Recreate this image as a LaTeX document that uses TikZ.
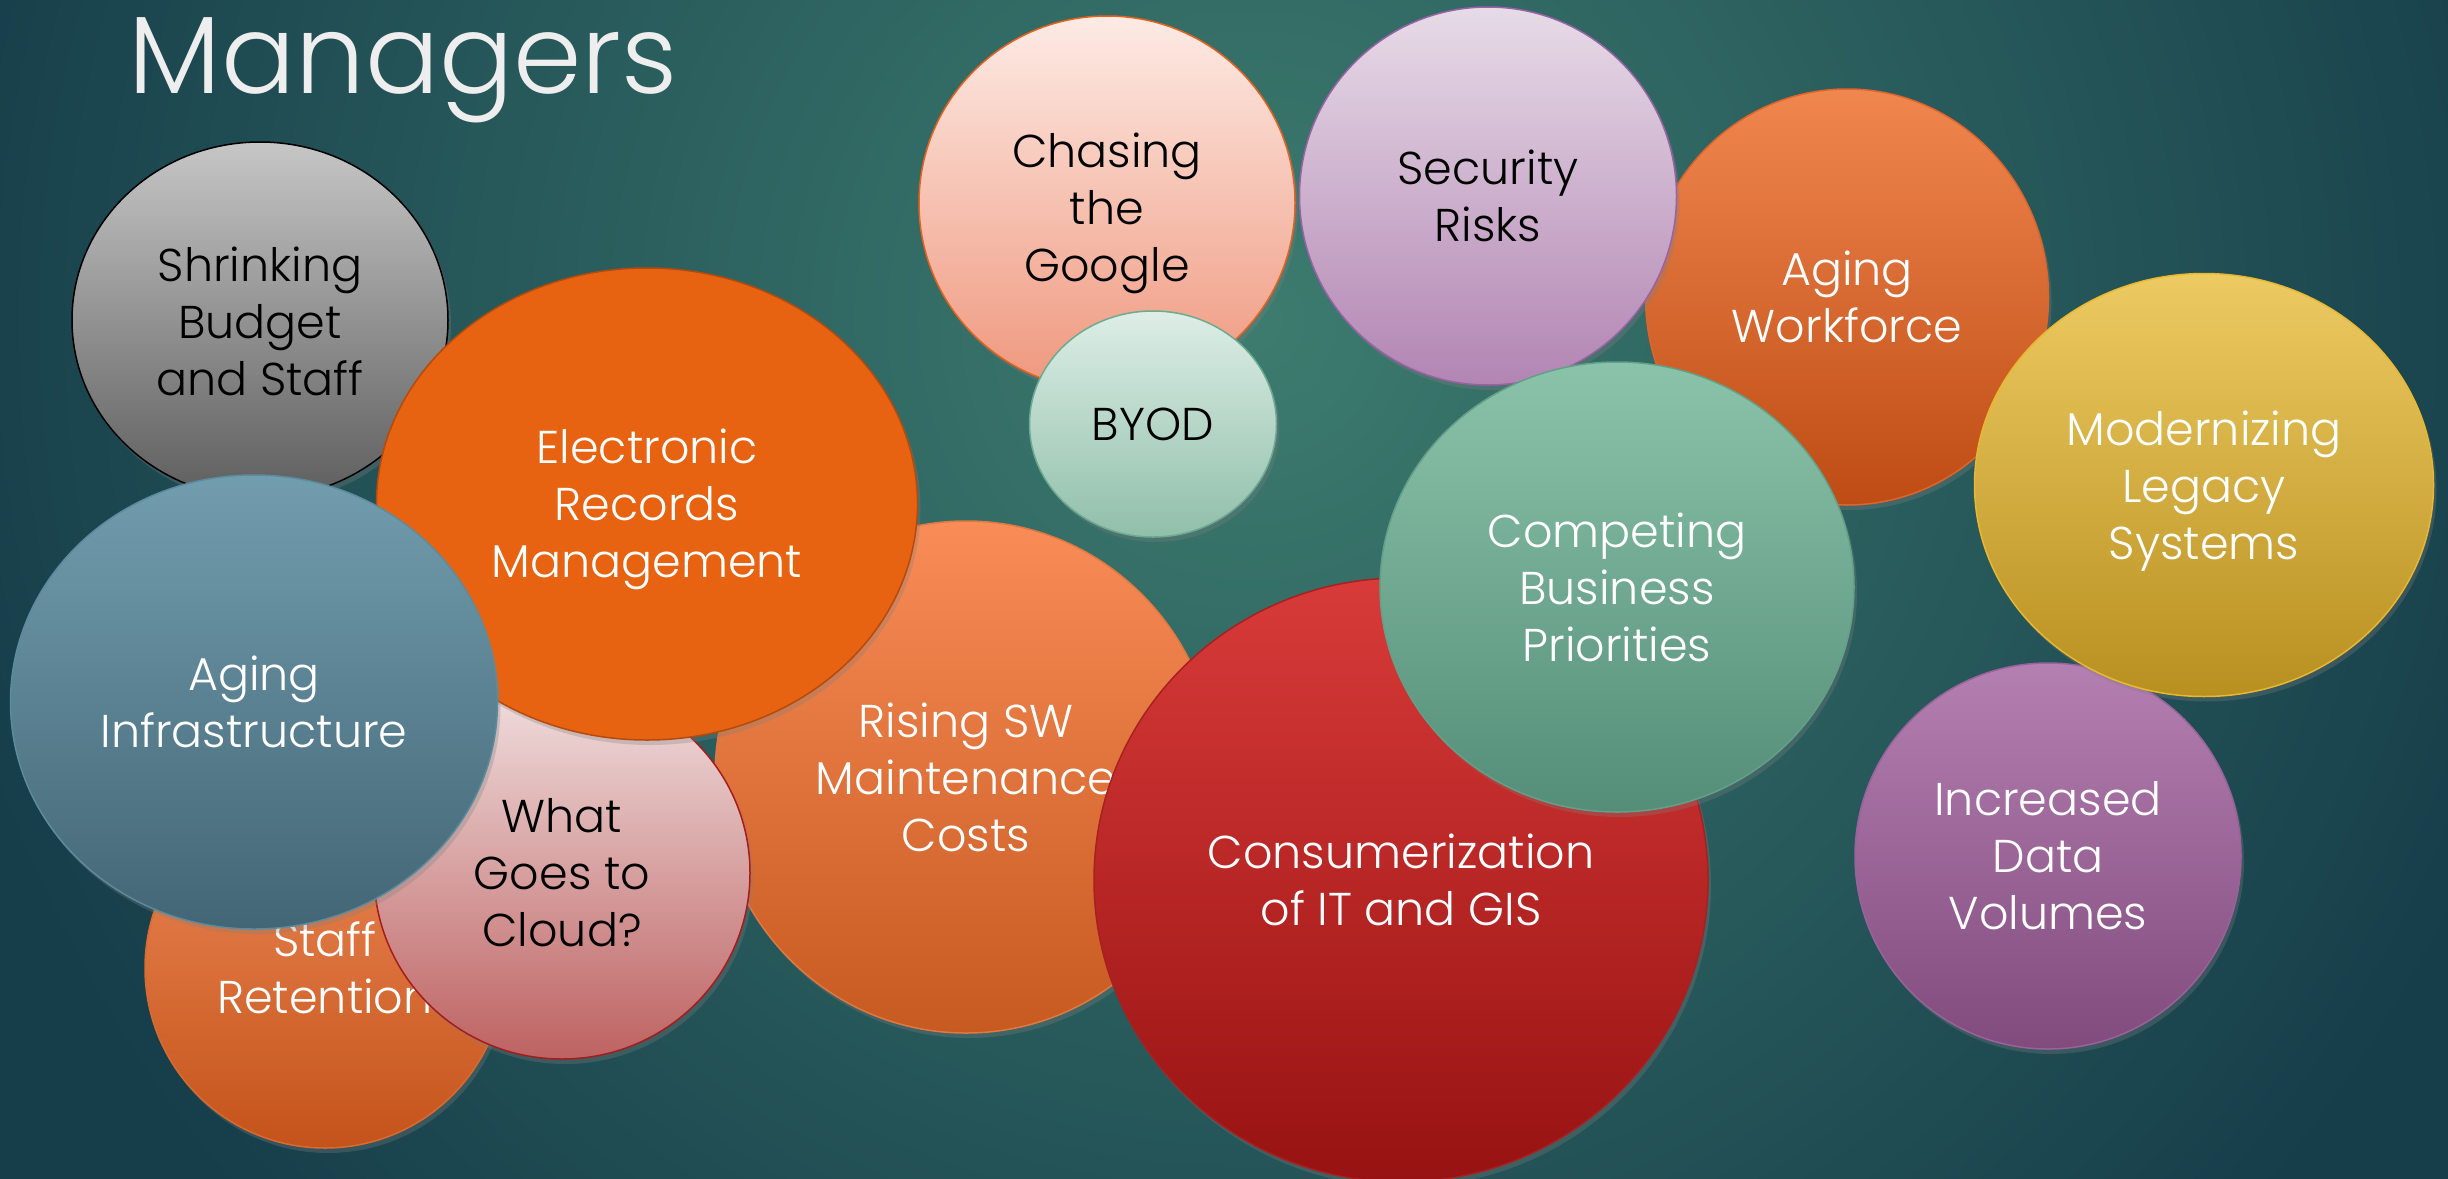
\documentclass[tikz,border=0pt]{standalone}
\usepackage{fontspec}
\setmainfont{Poppins Light}
\usepackage{tikz}
\usetikzlibrary{shapes.geometric,shadows}
\definecolor{bgdark}{HTML}{163D4A}
\definecolor{bglight}{HTML}{3D7C6F}
\definecolor{titlegray}{HTML}{EEEEEE}
\newcommand\tallline[1]{\rule{0pt}{#1}}

\begin{document}
\begin{tikzpicture}[x=1pt,y=-1pt,
    bubble/.style={ellipse,inner sep=0pt,align=center,text=white,line width=1.5pt,
      font=\fontsize{46}{57}\selectfont,
      drop shadow={shadow xshift=3pt,shadow yshift=-5pt,opacity=.3}}]
    \useasboundingbox (0,0) rectangle (2448,1178);
    \fill[bgdark] (-20,-20) rectangle (2468,1198);
    \begin{scope}
      \clip (-20,-20) rectangle (2468,1198);
      \shade[inner color=bglight,outer color=bgdark] (1250,320) circle (1350);
    \end{scope}
    \node[anchor=base west,text=titlegray,font=\fontsize{110}{110}\selectfont] (title) at (125,93) {Managers};
    \node[bubble,minimum width=376pt,minimum height=356pt,top color={rgb,255:red,198;green,198;blue,198},
      bottom color={rgb,255:red,94;green,94;blue,94},draw=black,text=black] (budget) at (260,320) {\tallline{38pt}Shrinking\\Budget\\and Staff};
    \node[bubble,minimum width=360pt,minimum height=360pt,top color={rgb,255:red,238;green,138;blue,88},
      bottom color={rgb,255:red,196;green,83;blue,26},draw={rgb,255:red,217;green,106;blue,48}] (retention) at (325,968) {Staff\\Retention};
    \node[bubble,minimum width=502pt,minimum height=512pt,top color={rgb,255:red,249;green,140;blue,87},
      bottom color={rgb,255:red,198;green,90;blue,32},draw={rgb,255:red,224;green,120;blue,64}] (rising) at (966,777) {Rising SW\\Maintenance\\Costs};
    \node[bubble,minimum width=376pt,minimum height=372pt,top color={rgb,255:red,240;green,222;blue,222},
      bottom color={rgb,255:red,190;green,98;blue,98},draw={rgb,255:red,166;green,28;blue,28},text=black] (cloud) at (562,873) {What\\Goes to\\Cloud?};
    \node[bubble,minimum width=541pt,minimum height=472pt,fill={rgb,255:red,232;green,99;blue,17},
      draw={rgb,255:red,180;green,74;blue,12}] (records) at (647,504) {\tallline{46pt}Electronic\\Records\\Management};
    \node[bubble,minimum width=487pt,minimum height=454pt,top color={rgb,255:red,114;green,157;blue,174},
      bottom color={rgb,255:red,67;green,102;blue,118},draw={rgb,255:red,91;green,140;blue,158}] (infra) at (254,702) {Aging\\Infrastructure};
    \node[bubble,minimum width=376pt,minimum height=374pt,top color={rgb,255:red,253;green,235;blue,229},
      bottom color={rgb,255:red,239;green,151;blue,125},draw={rgb,255:red,232;green,98;blue,28},text=black] (google) at (1107,203) {\tallline{56pt}Chasing\\the\\Google};
    \node[bubble,minimum width=247pt,minimum height=226pt,top color={rgb,255:red,221;green,238;blue,230},
      bottom color={rgb,255:red,144;green,191;blue,170},draw={rgb,255:red,109;green,170;blue,146},text=black] (byod) at (1153,424) {BYOD};
    \node[bubble,minimum width=403pt,minimum height=416pt,top color={rgb,255:red,240;green,135;blue,79},
      bottom color={rgb,255:red,190;green,76;blue,20},draw={rgb,255:red,224;green,100;blue,42}] (workforce) at (1847,297) {Aging\\Workforce};
    \node[bubble,minimum width=377pt,minimum height=378pt,top color={rgb,255:red,231;green,219;blue,231},
      bottom color={rgb,255:red,178;green,133;blue,179},draw={rgb,255:red,154;green,98;blue,166},text=black] (security) at (1488,196) {Security\\Risks};
    \node[bubble,minimum width=614pt,minimum height=604pt,top color={rgb,255:red,216;green,59;blue,57},
      bottom color={rgb,255:red,151;green,18;blue,18},draw={rgb,255:red,168;green,32;blue,32}] (consumer) at (1401,880) {Consumerization\\of IT and GIS};
    \node[bubble,minimum width=474pt,minimum height=450pt,top color={rgb,255:red,139;green,195;blue,170},
      bottom color={rgb,255:red,85;green,142;blue,120},draw={rgb,255:red,98;green,160;blue,136}] (competing) at (1617,587) {Competing\\Business\\Priorities};
    \node[bubble,minimum width=386pt,minimum height=386pt,top color={rgb,255:red,180;green,127;blue,177},
      bottom color={rgb,255:red,129;green,75;blue,126},draw={rgb,255:red,154;green,98;blue,154}] (volumes) at (2048,856) {Increased\\Data\\Volumes};
    \node[bubble,minimum width=459pt,minimum height=423pt,top color={rgb,255:red,237;green,202;blue,98},
      bottom color={rgb,255:red,184;green,144;blue,32},draw={rgb,255:red,232;green,184;blue,48}] (legacy) at (2204,485) {\tallline{46pt}Modernizing\\Legacy\\Systems};
  \end{tikzpicture}
\end{document}
